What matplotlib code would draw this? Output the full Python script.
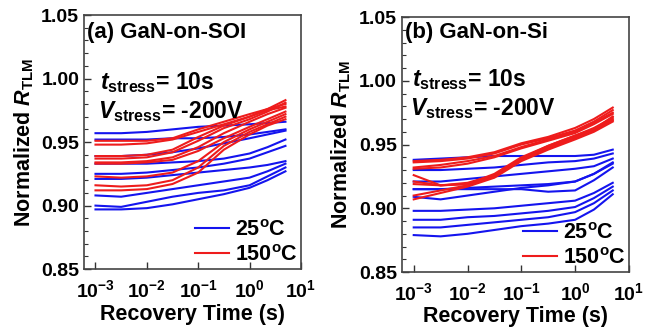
import matplotlib
matplotlib.use('Agg')
import matplotlib.pyplot as plt
import numpy as np
from matplotlib.ticker import FixedLocator, MultipleLocator, LogLocator, NullFormatter

plt.rcParams['font.family'] = ['Liberation Sans', 'DejaVu Sans']
plt.rcParams['font.weight'] = 'bold'
plt.rcParams['mathtext.fontset'] = 'custom'
plt.rcParams['mathtext.rm'] = 'Liberation Sans:bold'
plt.rcParams['mathtext.bf'] = 'Liberation Sans:bold'
plt.rcParams['mathtext.it'] = 'Liberation Sans:italic:bold'

# recovery time points (s), log spaced
t = 10.0 ** np.array([-3, -2.5, -2, -1.5, -1, -0.5, 0, 0.35, 0.7])

# (a) GaN-on-SOI
soi_25 = [
    [0.957, 0.957, 0.958, 0.960, 0.962, 0.963, 0.964, 0.965, 0.966],
    [0.952, 0.952, 0.952, 0.953, 0.953, 0.954, 0.956, 0.958, 0.960],
    [0.939, 0.939, 0.940, 0.942, 0.945, 0.949, 0.953, 0.956, 0.959],
    [0.933, 0.933, 0.933, 0.934, 0.935, 0.937, 0.941, 0.946, 0.952],
    [0.925, 0.925, 0.926, 0.928, 0.930, 0.933, 0.937, 0.942, 0.947],
    [0.921, 0.921, 0.922, 0.924, 0.926, 0.928, 0.930, 0.932, 0.935],
    [0.908, 0.907, 0.910, 0.913, 0.916, 0.919, 0.922, 0.927, 0.933],
    [0.900, 0.899, 0.903, 0.907, 0.910, 0.912, 0.916, 0.923, 0.930],
    [0.897, 0.897, 0.898, 0.901, 0.905, 0.909, 0.914, 0.920, 0.927],
]
soi_150 = [
    [0.951, 0.951, 0.951, 0.953, 0.960, 0.966, 0.972, 0.976, 0.980],
    [0.948, 0.948, 0.949, 0.952, 0.958, 0.964, 0.970, 0.975, 0.978],
    [0.939, 0.939, 0.940, 0.944, 0.954, 0.963, 0.970, 0.976, 0.983],
    [0.937, 0.937, 0.938, 0.942, 0.951, 0.961, 0.968, 0.974, 0.981],
    [0.934, 0.934, 0.935, 0.938, 0.946, 0.957, 0.966, 0.972, 0.977],
    [0.933, 0.933, 0.934, 0.936, 0.943, 0.953, 0.962, 0.968, 0.974],
    [0.923, 0.922, 0.923, 0.926, 0.935, 0.950, 0.960, 0.966, 0.972],
    [0.916, 0.915, 0.916, 0.920, 0.930, 0.947, 0.958, 0.964, 0.970],
    [0.912, 0.912, 0.913, 0.917, 0.926, 0.944, 0.956, 0.963, 0.968],
]

# (b) GaN-on-Si
si_25 = [
    [0.938, 0.939, 0.940, 0.941, 0.941, 0.941, 0.941, 0.942, 0.946],
    [0.930, 0.930, 0.931, 0.932, 0.934, 0.936, 0.937, 0.939, 0.943],
    [0.921, 0.921, 0.923, 0.925, 0.927, 0.929, 0.931, 0.933, 0.939],
    [0.915, 0.915, 0.916, 0.917, 0.918, 0.919, 0.921, 0.927, 0.935],
    [0.915, 0.915, 0.915, 0.915, 0.915, 0.913, 0.914, 0.922, 0.932],
    [0.909, 0.907, 0.910, 0.913, 0.916, 0.918, 0.921, 0.927, 0.936],
    [0.898, 0.898, 0.899, 0.900, 0.902, 0.904, 0.906, 0.912, 0.920],
    [0.891, 0.891, 0.893, 0.894, 0.896, 0.898, 0.901, 0.908, 0.917],
    [0.885, 0.885, 0.887, 0.889, 0.891, 0.893, 0.897, 0.904, 0.914],
    [0.879, 0.878, 0.880, 0.883, 0.886, 0.888, 0.891, 0.899, 0.911],
]
si_150 = [
    [0.937, 0.938, 0.940, 0.944, 0.951, 0.956, 0.963, 0.970, 0.979],
    [0.936, 0.937, 0.939, 0.943, 0.950, 0.955, 0.961, 0.968, 0.977],
    [0.932, 0.934, 0.937, 0.941, 0.948, 0.954, 0.960, 0.967, 0.975],
    [0.931, 0.932, 0.935, 0.940, 0.947, 0.953, 0.959, 0.966, 0.974],
    [0.926, 0.918, 0.919, 0.925, 0.938, 0.948, 0.956, 0.962, 0.972],
    [0.921, 0.918, 0.920, 0.926, 0.939, 0.949, 0.957, 0.963, 0.971],
    [0.919, 0.918, 0.919, 0.927, 0.940, 0.949, 0.957, 0.962, 0.970],
    [0.910, 0.914, 0.918, 0.925, 0.938, 0.947, 0.955, 0.961, 0.969],
    [0.907, 0.912, 0.917, 0.924, 0.937, 0.946, 0.954, 0.960, 0.968],
]

xticks = [1e-3, 1e-2, 1e-1, 1e0, 1e1]
xticklabels = [r'$\mathbf{10^{-3}}$', r'$\mathbf{10^{-2}}$', r'$\mathbf{10^{-1}}$',
               r'$\mathbf{10^{0}}$', r'$\mathbf{10^{1}}$']
yticks = [0.85, 0.90, 0.95, 1.00, 1.05]

BLUE = '#1414ee'
RED = '#ee1c1c'


def draw_panel(ax, cold, hot, title, pos_title, pos_t, pos_v):
    for i, y in enumerate(cold):
        ax.plot(t, y, color=BLUE, lw=1.5, label=r'25$^{\mathrm{o}}$C' if i == 0 else None)
    for i, y in enumerate(hot):
        ax.plot(t, y, color=RED, lw=1.5, label=r'150$^{\mathrm{o}}$C' if i == 0 else None)
    ax.set_xscale('log')
    ax.set_xlim(6e-4, 10)
    ax.set_ylim(0.85, 1.05)
    ax.xaxis.set_major_locator(FixedLocator(xticks))
    ax.set_xticklabels(xticklabels)
    ax.xaxis.set_minor_locator(LogLocator(base=10, subs=np.arange(2, 10)))
    ax.xaxis.set_minor_formatter(NullFormatter())
    ax.set_yticks(yticks)
    ax.set_yticklabels(['%.2f' % v for v in yticks])
    ax.yaxis.set_minor_locator(MultipleLocator(0.01))
    ax.tick_params(which='both', direction='in', top=False, right=False,
                   labelsize=14, color='#333333')
    ax.tick_params(axis='x', which='major', pad=7)
    ax.tick_params(which='major', length=5, width=1.0)
    ax.tick_params(which='minor', length=3, width=0.8)
    for s in ax.spines.values():
        s.set_color('#444444')
        s.set_linewidth(1.2)
    ax.set_xlabel('Recovery Time (s)', fontsize=15.5, fontweight='bold', labelpad=2)
    ax.set_ylabel(r'Normalized $R_{\mathrm{TLM}}$', fontsize=15.5, fontweight='bold', labelpad=4)
    ax.text(pos_title[0], pos_title[1], title, transform=ax.transAxes, fontsize=16,
            fontweight='bold', va='center', ha='left')
    ax.text(pos_t[0], pos_t[1], r'$t_{\mathrm{stress}}$= 10s', transform=ax.transAxes,
            fontsize=16.5, fontweight='bold', va='center', ha='left')
    ax.text(pos_v[0], pos_v[1], r'$V_{\mathrm{stress}}$= -200V', transform=ax.transAxes,
            fontsize=16.5, fontweight='bold', va='center', ha='left')
    ax.legend(loc='lower right', frameon=False, fontsize=15.5, handlelength=1.6,
              handletextpad=0.25, borderaxespad=0.05, borderpad=0.1, labelspacing=0.2)


fig = plt.figure(figsize=(6.47, 3.27), dpi=100)
ax1 = fig.add_axes([0.130, 0.177, 0.335, 0.777])
ax2 = fig.add_axes([0.621, 0.168, 0.351, 0.780])

draw_panel(ax1, soi_25, soi_150, '(a) GaN-on-SOI', (0.015, 0.931), (0.074, 0.735), (0.065, 0.62))
draw_panel(ax2, si_25, si_150, '(b) GaN-on-Si', (0.015, 0.94), (0.044, 0.755), (0.035, 0.64))

fig.savefig('out.png', dpi=100)
